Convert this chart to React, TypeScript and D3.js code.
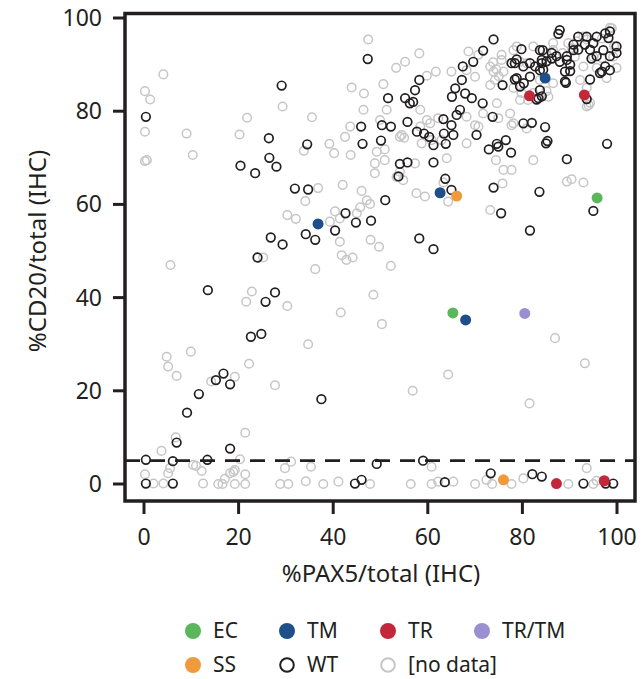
import React from "react";
import * as d3 from "d3";

// %PAX5 vs %CD20 positivity by IHC, grouped by genotype
const xTicks = [0, 20, 40, 60, 80, 100];
const yTicks = [0, 20, 40, 60, 80, 100];
const cutoff = 5;

const ecPoints: [number, number][] = [[65.3, 36.7], [95.8, 61.4]];
const tmPoints: [number, number][] = [[36.8, 55.8], [62.6, 62.5], [68.0, 35.2], [84.8, 87.1]];
const trPoints: [number, number][] = [[81.5, 83.3], [93.1, 83.5], [87.2, 0.1], [97.3, 0.7]];
const trtmPoints: [number, number][] = [[80.5, 36.6]];
const ssPoints: [number, number][] = [[66.1, 61.8], [76.0, 0.9]];

const wtPoints: [number, number][] = [
  [0.4, 78.8], [29.1, 85.5], [26.4, 74.2], [34.5, 72.9], [20.4, 68.3], [23.5, 66.7], [26.5, 70.0], [28.0, 68.1],
  [31.9, 63.4], [34.7, 63.2], [34.2, 53.6], [36.2, 52.4], [26.8, 52.9], [29.3, 51.4], [24.0, 48.6], [13.5, 41.6],
  [27.7, 41.1], [25.7, 39.1], [22.6, 31.6], [24.8, 32.2], [11.6, 19.3], [9.1, 15.3], [15.2, 22.3], [16.8, 23.7],
  [18.2, 21.4], [18.2, 7.6], [6.9, 8.9], [0.4, 5.2], [6.1, 4.9], [13.4, 5.2], [0.4, 0.1], [6.1, 0.1], [37.5, 18.2],
  [40.4, 54.4], [42.6, 58.1], [44.8, 56.1], [48.0, 56.5], [51.0, 60.9],
  [49.2, 4.3], [59.0, 5.0], [44.6, 0.1], [46.0, 0.9], [63.6, 0.4], [73.3, 2.3], [82.1, 2.1], [84.1, 1.6],
  [92.9, 0.1], [99.2, 0.1], [97.6, 0.1],
  [47.3, 91.2], [73.9, 95.4], [71.7, 93.0], [79.8, 93.3], [69.6, 90.6], [67.4, 89.6], [87.9, 97.4], [87.6, 96.6],
  [91.8, 96.0], [93.6, 96.0], [95.7, 96.0], [97.5, 96.7], [98.5, 97.1], [99.9, 93.9], [95.0, 94.6], [97.1, 93.1],
  [94.6, 91.3], [96.8, 88.5], [98.5, 88.8], [90.8, 93.1], [89.4, 91.0], [89.0, 88.5], [87.9, 90.6], [86.2, 91.3],
  [84.3, 93.1], [84.1, 91.0], [89.2, 86.1], [82.7, 89.6], [83.7, 88.8], [78.4, 90.3], [78.8, 87.1], [80.3, 86.0],
  [81.6, 87.4], [83.7, 84.5], [83.4, 82.8], [93.6, 82.6], [75.8, 85.6], [73.7, 78.8], [71.6, 81.7],
  [69.3, 82.8], [67.9, 83.8], [65.8, 84.9], [65.1, 83.1], [66.8, 80.3], [66.1, 79.2], [67.2, 86.7],
  [80.2, 77.4], [82.0, 77.5], [84.8, 76.6], [85.0, 73.1], [85.3, 73.6], [89.4, 69.7], [97.9, 73.0], [77.6, 71.1],
  [76.5, 73.8], [74.6, 73.0], [72.9, 71.8], [70.3, 74.9], [74.9, 72.4],
  [73.9, 63.6], [75.5, 58.1], [83.6, 62.7], [81.6, 54.4], [95.0, 58.6], [63.7, 65.5], [65.0, 63.1], [61.2, 69.0],
  [54.1, 68.7], [55.7, 69.0], [53.8, 66.0], [58.2, 52.7], [61.2, 50.4],
  [45.9, 76.7], [46.2, 73.0], [50.3, 77.0], [52.2, 76.7], [50.1, 73.7],
  [55.7, 77.7], [57.7, 75.6], [59.2, 75.2], [60.3, 74.5], [61.2, 72.7], [63.8, 73.0], [65.4, 74.9], [63.4, 75.2],
  [65.0, 77.0], [63.3, 78.3], [51.6, 82.8], [55.2, 82.8], [56.2, 81.7], [56.9, 82.0], [57.3, 84.5], [58.2, 86.7],
  [83.7, 93.1], [98.2, 95.7], [99.9, 92.5], [98.5, 91.8], [95.7, 91.8], [94.3, 93.2], [93.2, 94.3], [91.8, 93.2],
  [90.8, 94.3], [89.4, 91.8], [90.1, 90.0], [87.2, 91.8], [86.2, 92.5], [85.1, 90.7], [84.1, 90.3], [84.4, 88.9],
  [81.6, 90.3], [80.2, 89.6], [78.8, 91.1], [77.7, 90.3], [78.4, 86.8], [79.5, 85.3], [90.1, 88.6], [89.0, 86.4],
  [94.3, 86.8], [96.4, 88.2], [97.5, 89.6], [84.1, 83.2], [83.0, 82.5],
];

const noDataPoints: [number, number][] = [
  [4.1, 87.9], [0.2, 84.3], [1.3, 82.5], [0.2, 75.6], [0.2, 69.3], [0.6, 69.5], [9.0, 75.2], [10.3, 70.6],
  [5.6, 47.0], [21.8, 78.6], [20.2, 75.0], [29.3, 81.0], [35.5, 78.7], [33.8, 71.5], [34.1, 60.7], [30.3, 57.7],
  [32.1, 56.9], [36.2, 46.1], [22.8, 41.3], [21.6, 39.1], [30.3, 38.2], [36.8, 63.5], [25.2, 48.6],
  [40.4, 58.5], [41.4, 57.0], [45.7, 59.4], [47.8, 60.1], [41.4, 52.0], [47.9, 52.4], [49.7, 50.9], [41.8, 49.1],
  [42.8, 48.1], [44.1, 48.6], [52.2, 46.8], [48.5, 40.6], [41.6, 36.8], [50.3, 34.3], [34.7, 30.0],
  [46.0, 62.9], [47.1, 60.9], [45.0, 58.1], [39.3, 56.3], [42.0, 64.2],
  [48.8, 68.8], [50.9, 69.5], [48.8, 66.7], [53.4, 65.9], [54.8, 65.2], [57.3, 68.8], [49.2, 71.3], [50.9, 71.8],
  [54.1, 67.0], [47.4, 95.4], [58.2, 92.4], [55.2, 90.6], [53.3, 89.3], [61.7, 88.5], [59.8, 87.6], [50.6, 85.8],
  [43.9, 85.1], [46.5, 83.8], [46.4, 80.3], [51.3, 80.3], [43.6, 76.7], [42.5, 74.5], [39.2, 73.0], [40.2, 71.0],
  [43.7, 70.6], [49.9, 78.1], [54.1, 74.5], [58.7, 73.1], [60.8, 73.8], [58.4, 76.7], [59.8, 78.1], [62.2, 78.5],
  [68.2, 73.1], [70.7, 76.7], [68.2, 78.8], [71.7, 79.5],
  [65.0, 88.5], [68.2, 88.8], [70.0, 87.4], [73.2, 89.6], [73.9, 88.5], [74.2, 86.7], [75.6, 91.0], [73.2, 85.6],
  [74.6, 81.7], [77.4, 79.5], [77.7, 77.0], [68.6, 92.8], [70.7, 92.1], [75.6, 92.1], [78.1, 93.1],
  [79.5, 90.6], [80.9, 90.3], [79.5, 82.4], [81.2, 82.4], [83.7, 86.7], [85.5, 83.1], [86.5, 86.0], [89.7, 94.6],
  [86.5, 93.1], [91.1, 91.7], [92.2, 86.7], [92.9, 89.6], [95.0, 91.7], [96.8, 95.6], [98.9, 97.8], [99.2, 91.7],
  [97.8, 87.1], [93.6, 81.0], [92.9, 96.0],
  [82.3, 69.5], [89.4, 64.9], [90.4, 65.4], [92.9, 64.7], [76.0, 67.4], [77.7, 67.4], [74.4, 69.5], [75.8, 64.5],
  [73.2, 58.8], [57.6, 62.4], [59.4, 61.7], [64.3, 60.6], [63.3, 64.7],
  [58.4, 80.3], [54.5, 74.9], [55.0, 74.3], [60.5, 77.4], [62.9, 73.8], [70.0, 77.0], [64.0, 69.9], [74.9, 78.5],
  [80.9, 76.3], [78.1, 77.4], [94.0, 81.3], [86.5, 94.6], [85.1, 92.5], [82.3, 93.9], [78.8, 93.9], [78.1, 85.0],
  [79.8, 83.9], [82.3, 83.9], [85.1, 84.3], [96.8, 91.4], [99.9, 89.3], [95.7, 89.3], [93.6, 85.0], [94.3, 81.8],
  [93.6, 95.4], [99.4, 94.0], [98.5, 97.9], [74.5, 89.0], [75.0, 87.5], [73.8, 90.5], [76.0, 88.5], [88.5, 92.5],
  [90.5, 93.5], [91.5, 95.0],
  [64.3, 23.5], [56.8, 20.0], [81.5, 17.3], [86.9, 31.3], [93.2, 25.9],
  [4.8, 27.3], [5.1, 25.2], [6.9, 23.2], [9.9, 28.4], [14.2, 22.0], [19.2, 23.0], [22.2, 25.8], [27.7, 21.2],
  [21.4, 11.0], [3.7, 7.1], [6.7, 10.0], [11.0, 3.9], [12.2, 2.8], [20.3, 5.3], [19.2, 3.0], [18.2, 2.3], [21.4, 2.1],
  [5.1, 2.3], [5.5, 3.4], [0.2, 2.1], [2.0, 0.1], [4.1, 0.1], [12.5, 0.1], [15.7, 0.0], [16.6, 0.0], [19.2, 0.0],
  [21.4, 0.0], [29.8, 3.4], [31.1, 4.8], [28.8, 0.0], [30.5, 0.0], [34.2, 0.6], [35.3, 3.7], [10.4, 4.1], [17.1, 1.1],
  [18.9, 2.6],
  [37.9, 0.0], [41.1, 0.5], [47.8, 0.0], [56.4, 0.0], [60.8, 0.0], [62.2, 0.5], [65.4, 0.5], [60.8, 3.7], [70.0, 0.0],
  [72.4, 0.9], [73.6, 0.0], [77.7, 0.0], [80.2, 1.2], [89.7, 0.0], [93.6, 3.4], [95.0, 0.0], [95.7, 0.7],
];

const legendRows = [
  [
    { label: "EC", color: "#5bb65c", filled: true },
    { label: "TM", color: "#1f4f8a", filled: true },
    { label: "TR", color: "#c2283a", filled: true },
    { label: "TR/TM", color: "#9b90cf", filled: true },
  ],
  [
    { label: "SS", color: "#f09a3c", filled: true },
    { label: "WT", color: "#231f20", filled: false },
    { label: "[no data]", color: "#c6c6c6", filled: false },
  ],
];

const filledGroups = [
  { pts: ecPoints, color: "#5bb65c" },
  { pts: tmPoints, color: "#1f4f8a" },
  { pts: trPoints, color: "#c2283a" },
  { pts: trtmPoints, color: "#9b90cf" },
  { pts: ssPoints, color: "#f09a3c" },
];

const INK = "#231f20";
const FONT = "'Noto Sans', 'Open Sans', sans-serif";

export default function App() {
  const x = d3.scaleLinear().domain([0, 100]).range([144, 617]);
  const y = d3.scaleLinear().domain([0, 100]).range([484, 18]);
  const frame = { left: 125, top: 13.5, right: 635, bottom: 501 };
  const legendX = [193, 287, 388, 482];
  const legendY = [631, 665];

  return (
    <svg
      width={643}
      height={679}
      style={{ position: "absolute", left: 0, top: 0, background: "#fff" }}
      fontFamily={FONT}
    >
      {/* no-data samples underneath */}
      {noDataPoints.map(([px, py], i) => (
        <circle key={"n" + i} cx={x(px)} cy={y(py)} r={4.3} fill="none" stroke="#c6c6c6" strokeWidth={1.5} />
      ))}
      {/* wild-type samples */}
      {wtPoints.map(([px, py], i) => (
        <circle key={"w" + i} cx={x(px)} cy={y(py)} r={4.3} fill="none" stroke={INK} strokeWidth={1.7} />
      ))}
      {/* mutated groups on top */}
      {filledGroups.map((g, gi) =>
        g.pts.map(([px, py], i) => (
          <circle key={`f${gi}-${i}`} cx={x(px)} cy={y(py)} r={5.5} fill={g.color} />
        ))
      )}

      {/* 5% threshold */}
      <line
        x1={frame.left}
        x2={frame.right}
        y1={y(cutoff)}
        y2={y(cutoff)}
        stroke={INK}
        strokeWidth={2.8}
        strokeDasharray="15 10"
      />

      {/* frame */}
      <rect
        x={frame.left}
        y={frame.top}
        width={frame.right - frame.left}
        height={frame.bottom - frame.top}
        fill="none"
        stroke={INK}
        strokeWidth={3.5}
      />

      {/* y axis */}
      {yTicks.map((t) => (
        <g key={"yt" + t}>
          <line x1={frame.left - 12} x2={frame.left} y1={y(t)} y2={y(t)} stroke={INK} strokeWidth={3} />
          <text x={102} y={y(t)} dy="0.35em" textAnchor="end" fontSize={23} fill={INK}>
            {t}
          </text>
        </g>
      ))}
      {/* x axis */}
      {xTicks.map((t) => (
        <g key={"xt" + t}>
          <line x1={x(t)} x2={x(t)} y1={frame.bottom} y2={frame.bottom + 13} stroke={INK} strokeWidth={3} />
          <text x={x(t)} y={545} textAnchor="middle" fontSize={23} fill={INK}>
            {t}
          </text>
        </g>
      ))}

      <text x={381} y={582} textAnchor="middle" fontSize={24} fill={INK}>
        %PAX5/total (IHC)
      </text>
      <text
        transform={`translate(46, ${(y(0) + y(100)) / 2}) rotate(-90)`}
        textAnchor="middle"
        fontSize={24}
        fill={INK}
      >
        %CD20/total (IHC)
      </text>

      {/* legend */}
      {legendRows.map((row, ri) =>
        row.map((item, ci) => (
          <g key={`lg${ri}-${ci}`} transform={`translate(${legendX[ci]}, ${legendY[ri]})`}>
            {item.filled ? (
              <circle r={8} fill={item.color} />
            ) : (
              <circle r={6.8} fill="none" stroke={item.color} strokeWidth={2} />
            )}
            <text x={20} dy="0.35em" fontSize={21} fill={INK}>
              {item.label}
            </text>
          </g>
        ))
      )}
    </svg>
  );
}
